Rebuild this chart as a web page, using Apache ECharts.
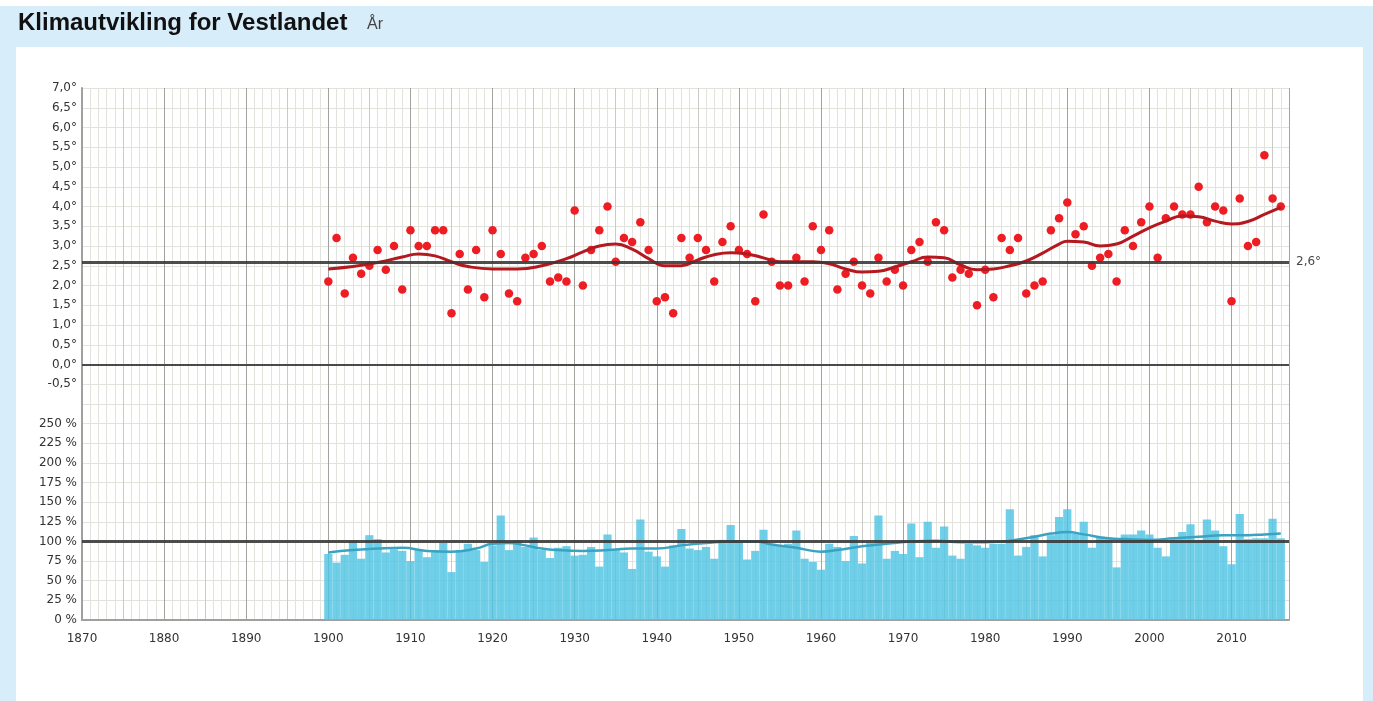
<!DOCTYPE html>
<html>
<head>
<meta charset="utf-8">
<script src="https://cdn.jsdelivr.net/npm/echarts@6/dist/echarts.min.js"></script>
<style>
  body { margin: 0; background: #fff; }
  .frame { position: absolute; left: 0; top: 6px; width: 1373px; height: 695px; background: #d7edf9; }
  .panel { position: absolute; left: 16px; top: 47px; width: 1347px; height: 654px; background: #fff; }
  #chart { position: absolute; left: 0; top: 0; width: 1373px; height: 701px; }
</style>
</head>
<body>
<div class="frame"></div>
<div class="panel"></div>
<div id="chart"></div>
<script>
// years with data
const firstYear = 1900;
const lastYear = 2016;

// annual mean temperature, degrees C
const temperature = [
  2.1, 3.2, 1.8, 2.7, 2.3, 2.5, 2.9, 2.4, 3.0, 1.9,
  3.4, 3.0, 3.0, 3.4, 3.4, 1.3, 2.8, 1.9, 2.9, 1.7,
  3.4, 2.8, 1.8, 1.6, 2.7, 2.8, 3.0, 2.1, 2.2, 2.1,
  3.9, 2.0, 2.9, 3.4, 4.0, 2.6, 3.2, 3.1, 3.6, 2.9,
  1.6, 1.7, 1.3, 3.2, 2.7, 3.2, 2.9, 2.1, 3.1, 3.5,
  2.9, 2.8, 1.6, 3.8, 2.6, 2.0, 2.0, 2.7, 2.1, 3.5,
  2.9, 3.4, 1.9, 2.3, 2.6, 2.0, 1.8, 2.7, 2.1, 2.4,
  2.0, 2.9, 3.1, 2.6, 3.6, 3.4, 2.2, 2.4, 2.3, 1.5,
  2.4, 1.7, 3.2, 2.9, 3.2, 1.8, 2.0, 2.1, 3.4, 3.7,
  4.1, 3.3, 3.5, 2.5, 2.7, 2.8, 2.1, 3.4, 3.0, 3.6,
  4.0, 2.7, 3.7, 4.0, 3.8, 3.8, 4.5, 3.6, 4.0, 3.9,
  1.6, 4.2, 3.0, 3.1, 5.3, 4.2, 4.0
];

// smoothed temperature curve [year, value]
const tempTrend = [
  [1900, 2.42], [1903, 2.48], [1906, 2.58], [1909, 2.72], [1911, 2.8], [1913, 2.75],
  [1915, 2.6], [1917, 2.48], [1920, 2.42], [1923, 2.42], [1926, 2.5], [1929, 2.68],
  [1931, 2.85], [1933, 3.0], [1935, 3.05], [1937, 2.92], [1939, 2.68], [1941, 2.5],
  [1943, 2.5], [1945, 2.65], [1947, 2.78], [1949, 2.83], [1951, 2.8], [1953, 2.7],
  [1955, 2.6], [1957, 2.6], [1959, 2.6], [1961, 2.55], [1963, 2.42], [1965, 2.34],
  [1967, 2.36], [1969, 2.47], [1971, 2.6], [1973, 2.72], [1975, 2.7], [1977, 2.52],
  [1979, 2.4], [1981, 2.42], [1983, 2.5], [1985, 2.62], [1987, 2.82], [1989, 3.05],
  [1990, 3.12], [1992, 3.1], [1994, 3.0], [1996, 3.05], [1998, 3.25], [2000, 3.46],
  [2002, 3.63], [2004, 3.76], [2006, 3.74], [2008, 3.63], [2010, 3.56], [2012, 3.62],
  [2014, 3.8], [2016, 3.98]
];

// annual precipitation, % of normal
const precipitation = [
  84, 73, 83, 101, 78, 108, 103, 86, 90, 88,
  75, 90, 80, 89, 98, 61, 89, 97, 89, 74,
  95, 133, 89, 101, 93, 105, 89, 79, 92, 94,
  82, 83, 93, 68, 109, 89, 86, 65, 128, 87,
  81, 68, 95, 116, 91, 89, 93, 78, 102, 121,
  100, 77, 88, 115, 97, 94, 97, 114, 78, 74,
  64, 97, 93, 75, 107, 72, 98, 133, 78, 88,
  84, 123, 80, 125, 92, 119, 82, 78, 97, 95,
  92, 97, 97, 141, 82, 93, 108, 81, 108, 131,
  141, 110, 125, 92, 106, 105, 67, 109, 109, 114,
  109, 92, 81, 103, 112, 122, 102, 128, 114, 94,
  71, 135, 103, 104, 104, 129, 104
];

// smoothed precipitation curve [year, value]
const precipTrend = [
  [1900, 86], [1903, 89], [1906, 91], [1909, 92], [1912, 88], [1915, 87], [1918, 91],
  [1920, 97], [1922, 98], [1924, 95], [1926, 91], [1928, 89], [1931, 88], [1934, 89],
  [1937, 91], [1940, 91], [1943, 95], [1946, 98], [1949, 100], [1952, 100], [1954, 96],
  [1957, 92], [1960, 87], [1962, 89], [1965, 94], [1968, 97], [1971, 100], [1974, 101],
  [1977, 99], [1980, 99], [1983, 101], [1986, 106], [1988, 110], [1990, 112], [1992, 109],
  [1995, 104], [1997, 103], [2000, 102], [2003, 104], [2006, 106], [2009, 108], [2012, 108],
  [2014, 109], [2016, 110]
];

const tempNormal = 2.6;
const precipNormal = 100;

const years = [];
for (let y = firstYear; y <= lastYear; y++) years.push(y);

const labelFont = { color: '#333', fontSize: 12, fontFamily: 'DejaVu Sans' };
const lightLine = '#e3e3de';
const decadeColors = ['#a3a39d', '#cbcbc5'];

function yearAxis(gridIndex, showLabels) {
  return [
    {
      gridIndex, type: 'value', position: 'bottom', min: 1870, max: 2017, interval: 1,
      axisLine: { show: false }, axisTick: { show: false }, axisLabel: { show: false },
      splitLine: { show: true, lineStyle: { color: lightLine, width: 1 } },
    },
    {
      gridIndex, type: 'value', position: 'bottom', min: 1870, max: 2017, interval: 5,
      axisLine: { show: showLabels, onZero: false, lineStyle: { color: '#a0a0a0', width: 2 } },
      axisTick: { show: false },
      axisLabel: {
        show: showLabels, margin: 13, ...labelFont,
        formatter: v => (v % 10 === 0 ? String(v) : ''),
      },
      splitLine: { show: true, lineStyle: { color: decadeColors, width: 1 } },
    },
  ];
}

const chart = echarts.init(document.getElementById('chart'));

chart.setOption({
  animation: false,
  title: [
    {
      text: 'Klimautvikling for Vestlandet', left: 18, top: 11, padding: 0,
      textStyle: { fontFamily: 'Liberation Sans', fontWeight: 'bold', fontSize: 24, color: '#111' },
    },
    {
      text: 'År', left: 367, top: 17, padding: 0,
      textStyle: { fontFamily: 'Liberation Sans', fontWeight: 'normal', fontSize: 16, color: '#444' },
    },
  ],
  grid: [
    { left: 82, top: 88, width: 1207, height: 316 },
    { left: 82, top: 404, width: 1207, height: 216 },
  ],
  xAxis: [...yearAxis(0, false), ...yearAxis(1, true)],
  yAxis: [
    {
      gridIndex: 0, type: 'value', min: -1, max: 7, interval: 0.5,
      axisLine: { show: true, lineStyle: { color: '#a0a0a0', width: 2 } },
      axisTick: { show: false },
      axisLabel: {
        margin: 5, ...labelFont,
        formatter: v => (v === -1 ? '' : v.toFixed(1).replace('.', ',') + '°'),
      },
      splitLine: { lineStyle: { color: lightLine } },
    },
    {
      gridIndex: 1, type: 'value', min: 0, max: 275, interval: 25,
      axisLine: { show: true, lineStyle: { color: '#a0a0a0', width: 2 } },
      axisTick: { show: false },
      axisLabel: {
        margin: 5, ...labelFont,
        formatter: v => (v === 275 ? '' : v + ' %'),
      },
      splitLine: { lineStyle: { color: lightLine } },
    },
  ],
  series: [
    {
      type: 'scatter', xAxisIndex: 0, yAxisIndex: 0,
      data: years.map((y, i) => [y, temperature[i]]),
      symbolSize: 8.5,
      itemStyle: { color: '#ee1d23', opacity: 1 },
      markLine: {
        silent: true, symbol: 'none',
        data: [
          { yAxis: tempNormal, lineStyle: { color: '#3a3a3a', width: 3, type: 'solid', opacity: 0.9 },
            label: { show: true, position: 'end', distance: 7, formatter: '2,6°', ...labelFont } },
          { yAxis: 0, lineStyle: { color: '#4a4a4a', width: 2, type: 'solid' }, label: { show: false } },
        ],
      },
    },
    {
      type: 'line', xAxisIndex: 0, yAxisIndex: 0,
      data: tempTrend, smooth: 0.5, showSymbol: false,
      lineStyle: { color: '#b3191f', width: 3 },
    },
    {
      type: 'bar', xAxisIndex: 2, yAxisIndex: 1,
      data: years.map((y, i) => [y, precipitation[i]]),
      barWidth: 8.2,
      itemStyle: { color: '#4fc4e3', opacity: 0.82 },
      markLine: {
        silent: true, symbol: 'none',
        data: [
          { yAxis: precipNormal, lineStyle: { color: '#3a3a3a', width: 3, type: 'solid', opacity: 0.9 },
            label: { show: false } },
        ],
      },
    },
    {
      type: 'line', xAxisIndex: 2, yAxisIndex: 1,
      data: precipTrend, smooth: 0.5, showSymbol: false,
      lineStyle: { color: '#3aa3c2', width: 2.5 },
    },
  ],
});
</script>
</body>
</html>
